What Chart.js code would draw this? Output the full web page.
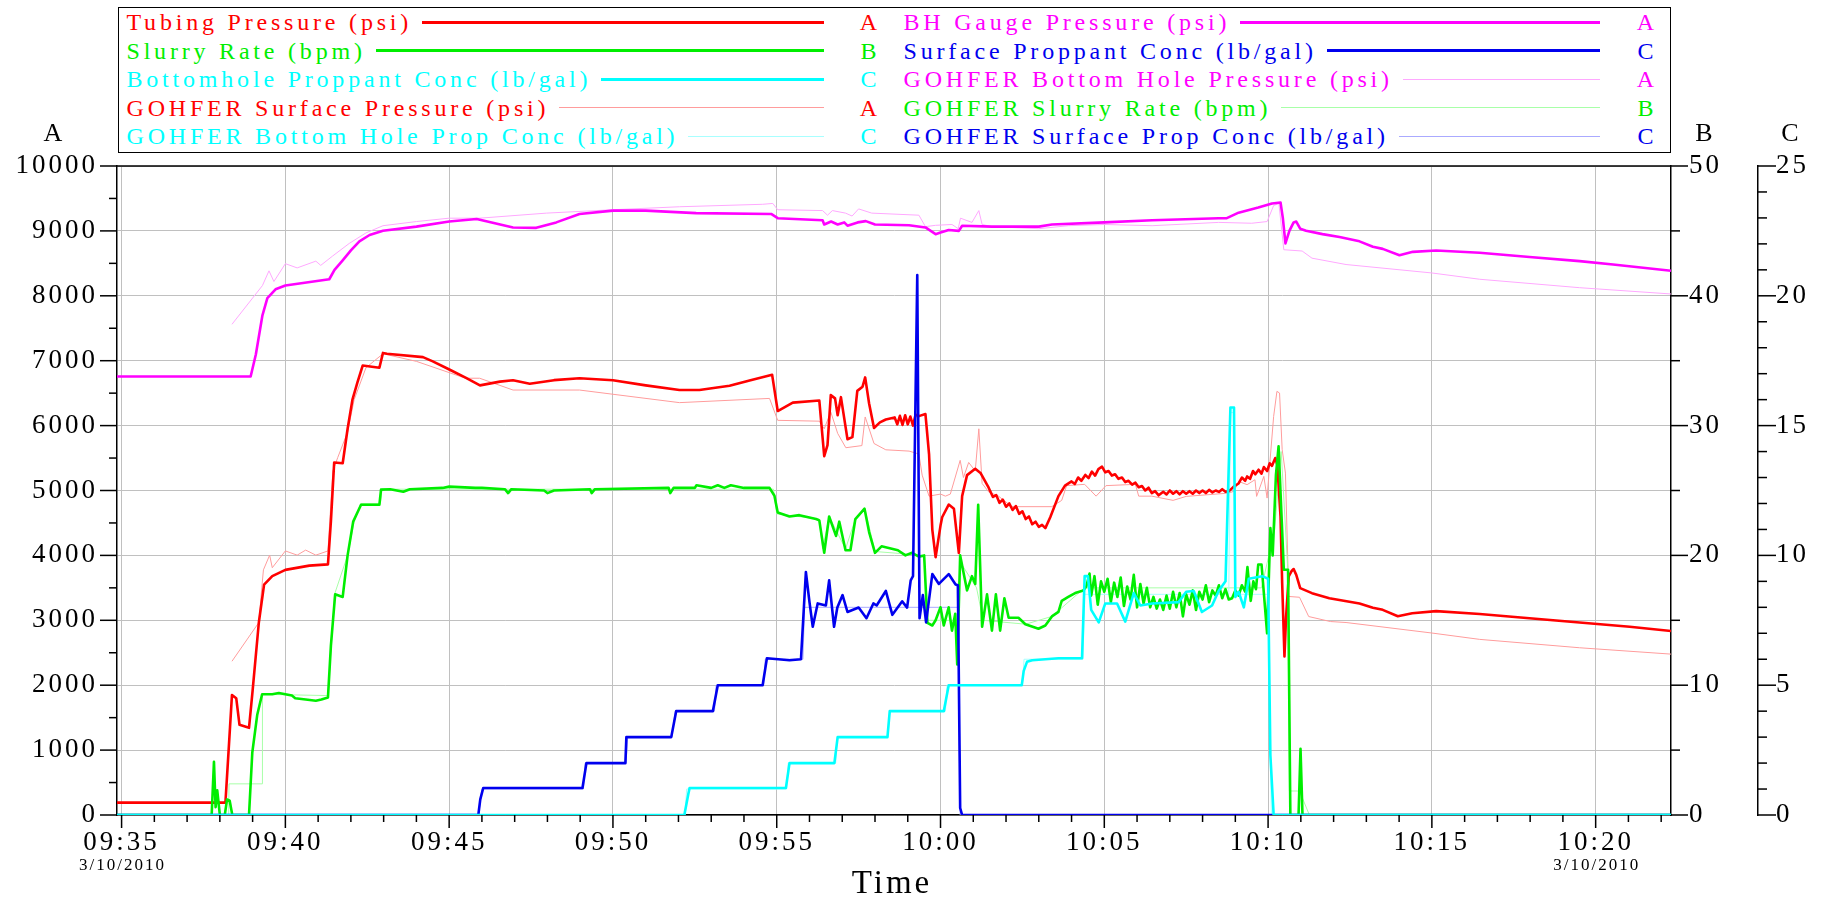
<!DOCTYPE html>
<html>
<head>
<meta charset="utf-8">
<title>Treatment plot</title>
<script src="https://cdn.jsdelivr.net/npm/chart.js@4.4.1/dist/chart.umd.min.js"></script>
<style>
  html, body { margin: 0; padding: 0; background: #fff; }
  #wrap { position: relative; width: 1834px; height: 900px; overflow: hidden;
          font-family: "Liberation Serif", "Times New Roman", serif; }
  #plot { position: absolute; left: 0; top: 0; }
  #legend { position: absolute; left: 118px; top: 7px; width: 1553px; height: 146px;
            border: 1.5px solid #000; box-sizing: border-box; background: #fff; }
  .col { position: absolute; top: 0; width: 762px; }
  .row { display: flex; align-items: center; height: 28.5px; line-height: 28.5px;
         font-size: 24px; letter-spacing: 3.8px; white-space: nowrap; }
  .row .sw { flex: 1; margin-left: 10px; }
  .row .ax { width: 40px; text-align: center; letter-spacing: 0; }
  .axt { position: absolute; font-size: 26px; color: #000; transform: translate(-50%, -50%); }
</style>
</head>
<body>
<div id="wrap">
  <canvas id="plot" width="1834" height="900"></canvas>
  <div id="legend">
    <div class="col" id="colL" style="left:7.5px"></div>
    <div class="col" id="colR" style="left:784.5px"></div>
  </div>
  <div class="axt" style="left:53px;top:133px">A</div>
  <div class="axt" style="left:1704px;top:133px">B</div>
  <div class="axt" style="left:1790px;top:133px">C</div>
  <div class="axt" style="left:892px;top:882px;font-size:33px;letter-spacing:3px">Time</div>
</div>
<script>
// Elapsed minutes after 09:35 on 3/10/2010, paired with the reading at that moment.

// Axis A (psi)
const tubingPressure = [
  [-0.14,190],[3.17,190],[3.28,1100],[3.37,1850],[3.5,1800],[3.6,1390],[3.89,1343],[4.0,1915],[4.19,2966],
  [4.35,3550],[4.6,3680],[5.0,3777],[5.73,3842],[6.3,3862],[6.39,4524],[6.49,5432],[6.75,5419],[6.9,5951],
  [7.05,6405],[7.2,6665],[7.36,6925],[7.87,6892],[7.98,7120],[8.1,7107],[9.2,7055],[9.5,6990],[10.02,6860],
  [10.5,6740],[10.94,6620],[11.55,6678],[11.95,6698],[12.46,6646],[13.2,6700],[13.98,6730],[15.0,6698],
  [16.0,6620],[17.03,6548],[17.64,6548],[18.56,6613],[19.2,6700],[19.86,6782],[20.03,6224],[20.49,6354],
  [21.3,6386],[21.45,5529],[21.55,5700],[21.65,6470],[21.78,6420],[21.86,6159],[21.96,6438],[22.16,5789],
  [22.31,5822],[22.46,6535],[22.62,6600],[22.7,6743],[22.82,6341],[22.97,5964],[23.15,6050],[23.33,6094],
  [23.6,6126],[23.68,6020],[23.76,6150],[23.84,6010],[23.92,6160],[24.0,6020],[24.08,6140],[24.16,6000],
  [24.24,6170],[24.34,6146],[24.54,6178],[24.65,5562],[24.75,4394],[24.85,3972],[25.0,4459],[25.05,4588],
  [25.25,4783],[25.41,4718],[25.56,4037],[25.66,4913],[25.81,5237],[26.06,5335],[26.22,5270],[26.47,5043],
  [26.6,4900],[26.7,4930],[26.8,4810],[26.9,4860],[27.0,4750],[27.1,4800],[27.2,4700],[27.3,4760],[27.4,4640],
  [27.5,4680],[27.6,4560],[27.7,4600],[27.8,4480],[27.9,4520],[28.0,4440],[28.1,4470],[28.2,4420],[28.35,4588],
  [28.6,4913],[28.8,5075],[29.0,5140],[29.1,5100],[29.2,5200],[29.3,5150],[29.42,5240],[29.52,5190],[29.62,5290],
  [29.72,5230],[29.82,5330],[29.93,5367],[30.03,5280],[30.13,5300],[30.23,5230],[30.33,5250],[30.43,5180],
  [30.54,5200],[30.64,5130],[30.74,5150],[30.85,5090],[30.95,5120],[31.05,5050],[31.15,5070],[31.25,5000],
  [31.35,5043],[31.45,4960],[31.55,4990],[31.66,4926],[31.8,4980],[31.9,4940],[32.0,5000],[32.1,4950],
  [32.2,4990],[32.3,4940],[32.4,4990],[32.5,4950],[32.6,4990],[32.7,4950],[32.8,5000],[32.9,4960],[33.0,5000],
  [33.1,4960],[33.2,5010],[33.3,4970],[33.4,5000],[33.5,4978],[33.6,5020],[33.7,4980],[33.8,4986],[33.96,5063],
  [34.1,5108],[34.2,5200],[34.3,5150],[34.36,5217],[34.45,5180],[34.54,5300],[34.61,5250],[34.71,5320],
  [34.8,5260],[34.87,5361],[34.97,5300],[35.05,5420],[35.12,5380],[35.22,5500],[35.28,5400],[35.38,4600],
  [35.43,3572],[35.5,2442],[35.55,3058],[35.63,3675],[35.72,3760],[35.78,3790],[35.86,3700],[35.98,3495],
  [36.34,3418],[36.87,3341],[37.79,3258],[38.2,3193],[38.5,3161],[38.96,3063],[39.4,3109],[40.13,3141],
  [41.46,3096],[42.98,3031],[44.51,2966],[46.04,2901],[47.3,2836]
];

const gohferSurfacePressure = [
  [3.37,2369],[4.19,2966],[4.28,3500],[4.33,3777],[4.52,4004],[4.6,3810],[5.0,4069],[5.36,4004],[5.62,4082],
  [5.93,4004],[6.3,4069],[6.45,5300],[6.6,5510],[6.9,5900],[7.1,6400],[7.46,6892],[7.98,7107],[9.0,6990],
  [10.5,6730],[10.93,6730],[11.95,6548],[13.98,6548],[15.0,6483],[17.03,6354],[19.78,6419],[20.03,6081],
  [21.3,6068],[21.45,5951],[21.65,6211],[21.86,5880],[22.11,5659],[22.6,5692],[22.7,6133],[22.97,5724],
  [23.33,5627],[24.04,5607],[24.34,5562],[24.44,5237],[24.65,4913],[25.0,4945],[25.15,4913],[25.3,4945],
  [25.6,5465],[25.7,5200],[25.86,5432],[26.06,5300],[26.17,5951],[26.27,5108],[26.47,4978],[26.77,4913],
  [27.18,4751],[28.4,4751],[28.7,4848],[28.85,5075],[29.4,5095],[29.75,4913],[30.05,5075],[30.95,5095],
  [31.05,4913],[31.45,4913],[32.1,4848],[32.5,4909],[33.8,4960],[33.96,4990],[34.1,5140],[34.36,5090],
  [34.6,5166],[34.65,4909],[34.87,5217],[34.97,4883],[35.02,5217],[35.17,6142],[35.27,6528],[35.35,6502],
  [35.43,5628],[35.53,5268],[35.63,3367],[35.96,3355],[36.24,3058],[36.9,2981],[37.38,2966],[40.0,2804],
  [41.46,2706],[44.51,2577],[47.3,2479]
];

const bhGaugePressure = [
  [-0.14,6756],[3.94,6756],[4.1,7100],[4.3,7700],[4.45,7963],[4.7,8100],[5.0,8158],[6.34,8255],[6.5,8400],
  [6.75,8547],[7.0,8700],[7.26,8839],[7.57,8937],[7.98,9002],[9.0,9066],[10.0,9144],[10.84,9183],[11.95,9053],
  [12.66,9047],[13.27,9131],[13.98,9261],[15.0,9313],[16.0,9313],[17.54,9274],[19.83,9261],[20.03,9196],
  [21.4,9164],[21.45,9099],[21.66,9144],[21.86,9099],[22.06,9131],[22.16,9080],[22.47,9131],[22.72,9151],
  [23.0,9099],[24.04,9086],[24.54,9053],[24.85,8950],[25.0,8975],[25.25,9014],[25.56,9000],[25.66,9080],
  [26.57,9066],[28.0,9066],[28.4,9099],[30.0,9131],[31.46,9164],[33.49,9196],[33.74,9196],[34.1,9281],
  [34.7,9359],[35.12,9423],[35.38,9437],[35.45,9200],[35.53,8807],[35.65,9000],[35.78,9131],[35.86,9144],
  [35.98,9034],[36.16,9002],[36.66,8950],[37.18,8905],[37.79,8839],[38.2,8755],[38.5,8723],[39.01,8625],
  [39.42,8677],[40.13,8697],[41.46,8664],[42.98,8599],[44.51,8534],[45.53,8482],[47.3,8385]
];

const gohferBottomHolePressure = [
  [3.37,7561],[4.3,8158],[4.5,8385],[4.65,8220],[5.0,8495],[5.36,8430],[5.93,8534],[6.08,8469],[6.44,8612],
  [6.95,8807],[7.46,8969],[7.98,9080],[9.0,9144],[10.0,9196],[10.93,9196],[12.97,9274],[15.0,9326],
  [17.03,9372],[19.57,9410],[19.88,9423],[20.03,9326],[21.4,9313],[21.55,9242],[21.7,9313],[22.1,9274],
  [22.3,9229],[22.5,9339],[22.9,9274],[24.34,9242],[24.54,9066],[24.85,9086],[25.35,9099],[25.54,9034],
  [25.61,9196],[25.96,9131],[26.17,9313],[26.27,9099],[26.57,9066],[28.0,9034],[28.9,9080],[30.0,9099],
  [31.46,9080],[33.49,9131],[34.5,9118],[34.97,9144],[35.17,9391],[35.33,9423],[35.48,8710],[36.04,8690],
  [36.34,8580],[37.38,8482],[40.0,8352],[41.46,8255],[44.51,8125],[47.3,8028]
];

// Axis B (bpm)
const slurryRate = [
  [-0.14,0],[2.75,0],[2.82,4.1],[2.87,0.6],[2.92,1.9],[3.0,0],[3.15,0],[3.22,1.2],[3.3,1.1],[3.38,0],[3.89,0],
  [3.99,4.8],[4.14,7.7],[4.29,9.3],[4.6,9.3],[4.8,9.4],[5.0,9.3],[5.2,9.2],[5.3,9.0],[5.62,8.9],[5.93,8.8],
  [6.1,8.9],[6.3,9.06],[6.39,13.05],[6.52,17.0],[6.75,16.8],[6.9,20.0],[7.07,22.6],[7.31,23.9],[7.57,23.9],
  [7.87,23.9],[7.92,25.07],[8.2,25.1],[8.6,24.9],[8.8,25.1],[9.8,25.2],[10.0,25.3],[10.8,25.2],[11.0,25.2],
  [11.7,25.1],[11.8,24.8],[11.9,25.1],[12.9,25.0],[13.0,24.8],[13.2,25.0],[14.3,25.1],[14.35,24.8],[14.45,25.1],
  [16.7,25.2],[16.75,24.8],[16.85,25.2],[17.5,25.2],[17.55,25.4],[18.0,25.2],[18.2,25.4],[18.4,25.2],
  [18.6,25.4],[19.0,25.2],[19.78,25.2],[19.93,24.6],[20.03,23.3],[20.39,23.0],[20.69,23.1],[21.2,22.8],
  [21.3,22.7],[21.45,20.2],[21.6,23.0],[21.81,21.5],[21.91,22.6],[22.1,20.4],[22.25,20.4],[22.4,22.8],
  [22.68,23.6],[22.82,21.8],[23.0,20.2],[23.2,20.7],[23.7,20.4],[23.93,20.0],[24.13,20.2],[24.34,19.9],
  [24.5,20.0],[24.6,14.8],[24.75,14.6],[24.85,15.0],[25.0,16.0],[25.1,14.6],[25.25,16.0],[25.35,14.2],
  [25.45,15.5],[25.51,11.6],[25.6,20.0],[25.81,17.3],[25.96,18.4],[26.06,17.8],[26.15,23.9],[26.27,14.5],
  [26.42,17.0],[26.57,14.2],[26.69,17.0],[26.82,14.2],[26.95,16.7],[27.08,15.2],[27.38,15.2],[27.59,14.7],
  [27.99,14.35],[28.2,14.6],[28.4,15.3],[28.6,15.65],[28.7,16.5],[28.9,16.8],[29.11,17.1],[29.36,17.3],
  [29.45,17.6],[29.55,18.6],[29.6,16.9],[29.7,18.4],[29.8,16.2],[29.9,18.0],[30.0,17.2],[30.1,18.2],
  [30.2,16.4],[30.3,17.9],[30.4,16.8],[30.5,18.3],[30.6,16.1],[30.7,17.6],[30.8,16.6],[30.9,18.5],[31.0,16.0],
  [31.1,17.8],[31.2,16.3],[31.3,17.5],[31.4,16.0],[31.5,16.8],[31.6,15.9],[31.7,16.6],[31.8,15.8],[31.9,16.9],
  [32.0,15.9],[32.1,17.2],[32.2,16.0],[32.3,17.1],[32.4,15.3],[32.5,17.0],[32.6,16.2],[32.7,17.3],[32.8,15.8],
  [32.9,17.2],[33.0,16.6],[33.1,17.7],[33.2,16.4],[33.3,17.3],[33.4,16.9],[33.5,17.7],[33.6,16.7],[33.7,17.4],
  [33.8,16.6],[33.9,16.7],[34.0,17.3],[34.1,16.9],[34.2,17.7],[34.3,17.2],[34.37,19.1],[34.47,16.5],
  [34.55,18.0],[34.63,17.4],[34.7,19.3],[34.8,19.3],[34.97,14.0],[35.07,22.1],[35.14,20.0],[35.24,26.2],
  [35.32,28.4],[35.48,18.9],[35.61,18.9],[35.68,0],[35.93,0],[35.99,5.1],[36.05,0],[47.3,0]
];

const gohferSlurryRate = [
  [-0.14,0],[3.27,0],[3.28,2.4],[4.29,2.4],[4.3,9.3],[6.3,9.2],[6.4,13],[6.5,17],[6.9,20],[7.1,22.6],
  [7.3,24],[7.9,24],[7.95,25.1],[19.9,25.1],[20.0,23.2],[21.3,22.8],[21.4,20.5],[21.6,23],[22.1,20.5],
  [22.4,22.8],[22.7,23.5],[23.0,20.3],[24.5,20],[24.6,15],[25.5,15],[25.6,19.5],[26.1,17.5],[26.3,15],
  [27.6,14.7],[28.4,15.3],[29.4,17.5],[34.8,17.5],[35.2,22],[35.4,28],[35.6,19],[35.65,1.85],[35.96,1.85],
  [36.26,0],[47.3,0]
];

// Axis C (lb/gal)
const surfacePropConc = [
  [-0.14,0],[10.89,0],[10.95,0.6],[11.04,1.04],[14.07,1.04],[14.19,2.0],[15.38,2.0],[15.41,3.0],[16.78,3.0],
  [16.93,4.0],[18.05,4.0],[18.2,5.0],[19.57,5.0],[19.7,6.04],[20.39,5.96],[20.74,6.0],[20.89,9.36],[21.0,8.2],
  [21.1,7.25],[21.25,8.15],[21.5,8.07],[21.6,9.04],[21.75,7.25],[21.85,7.99],[22.01,8.47],[22.16,7.82],
  [22.5,7.99],[22.74,7.58],[22.95,8.15],[23.05,8.07],[23.33,8.63],[23.53,7.71],[23.83,8.23],[23.98,7.99],
  [24.09,9.04],[24.16,9.2],[24.29,20.8],[24.36,7.58],[24.46,8.47],[24.56,7.42],[24.75,9.28],[24.95,8.9],
  [25.25,9.28],[25.46,8.88],[25.53,8.85],[25.6,0.27],[25.66,0],[47.3,0]
];

const gohferSurfacePropConc = [
  [-0.14,0],[10.9,0],[11.0,1],[14.1,1],[14.15,2],[15.4,2],[15.45,3],[16.8,3],[16.9,4],[18.1,4],[18.15,5],
  [19.6,5],[19.65,6],[20.8,6],[20.85,8],[25.55,8],[25.6,0],[47.3,0]
];

const bottomholePropConc = [
  [-0.14,0],[17.18,0],[17.3,0.8],[17.34,1.04],[20.28,1.04],[20.39,2.0],[21.76,2.0],[21.86,3.0],[23.38,3.0],
  [23.45,4.0],[25.1,4.0],[25.25,5.0],[27.48,5.0],[27.54,5.55],[27.64,5.9],[27.8,5.96],[28.6,6.04],[29.32,6.04],
  [29.4,9.2],[29.5,9.2],[29.6,7.9],[29.83,7.42],[30.03,8.15],[30.39,8.15],[30.64,7.45],[30.9,8.55],[31.1,8.07],
  [31.46,8.15],[32.27,8.2],[32.5,8.6],[32.73,8.63],[32.98,7.82],[33.29,8.07],[33.49,8.63],[33.7,9.0],
  [33.85,15.7],[33.96,15.7],[34.0,8.4],[34.1,8.6],[34.26,8.0],[34.41,9.1],[34.82,9.2],[35.0,9.1],[35.07,2.3],
  [35.17,0],[47.3,0]
];

const gohferBottomHolePropConc = [
  [-0.14,0],[17.2,0],[17.25,1],[20.3,1],[20.35,2],[21.8,2],[21.85,3],[23.4,3],[23.45,4],[25.15,4],[25.2,5],
  [27.5,5],[27.55,6],[29.35,6],[29.4,8.5],[33.8,8.5],[33.85,15.5],[33.95,15.5],[34.0,8.5],[35.0,8.5],
  [35.1,0],[47.3,0]
];

// Time axis
const timeTicks  = [0, 5, 10, 15, 20, 25, 30, 35, 40, 45];
const timeLabels = ['09:35','09:40','09:45','09:50','09:55','10:00','10:05','10:10','10:15','10:20'];
const dateTicks  = [0, 45];
const dateLabel  = '3/10/2010';

const FONT = '"Liberation Serif", "Times New Roman", serif';

// Legend entries, left column then right column
const legendLeft = [
  { text: 'Tubing Pressure (psi)',               color: '#ff0000', line: '#ff0000', w: 3, axis: 'A', axisColor: '#ff0000' },
  { text: 'Slurry Rate (bpm)',                   color: '#00ee00', line: '#00ee00', w: 3, axis: 'B', axisColor: '#00ee00' },
  { text: 'Bottomhole Proppant Conc (lb/gal)',   color: '#00ffff', line: '#00ffff', w: 3, axis: 'C', axisColor: '#00ffff' },
  { text: 'GOHFER Surface Pressure (psi)',       color: '#ff0000', line: '#ff9c9c', w: 1, axis: 'A', axisColor: '#ff0000' },
  { text: 'GOHFER Bottom Hole Prop Conc (lb/gal)', color: '#00ffff', line: '#a8ffff', w: 1, axis: 'C', axisColor: '#00ffff' }
];
const legendRight = [
  { text: 'BH Gauge Pressure (psi)',             color: '#ff00ff', line: '#ff00ff', w: 3, axis: 'A', axisColor: '#ff00ff' },
  { text: 'Surface Proppant Conc (lb/gal)',      color: '#0000ee', line: '#0000ee', w: 3, axis: 'C', axisColor: '#0000ee' },
  { text: 'GOHFER Bottom Hole Pressure (psi)',   color: '#ff00ff', line: '#ffa8ff', w: 1, axis: 'A', axisColor: '#ff00ff' },
  { text: 'GOHFER Slurry Rate (bpm)',            color: '#00ee00', line: '#a8ffa8', w: 1, axis: 'B', axisColor: '#00ee00' },
  { text: 'GOHFER Surface Prop Conc (lb/gal)',   color: '#0000ee', line: '#aaaaff', w: 1, axis: 'C', axisColor: '#0000ee' }
];

function fillLegend(el, items, endGap) {
  items.forEach(it => {
    const row = document.createElement('div');
    row.className = 'row';
    const t = document.createElement('span');
    t.textContent = it.text; t.style.color = it.color;
    const sw = document.createElement('span');
    sw.className = 'sw';
    sw.style.height = it.w + 'px'; sw.style.background = it.line; sw.style.marginRight = endGap + 'px';
    const a = document.createElement('span');
    a.className = 'ax'; a.textContent = it.axis; a.style.color = it.axisColor;
    row.append(t, sw, a);
    el.appendChild(row);
  });
}
fillLegend(document.getElementById('colL'), legendLeft, 25);
fillLegend(document.getElementById('colR'), legendRight, 26);

// Wide-set lettering used by the axis labels
const spacing = {
  id: 'spacing',
  beforeLayout(chart) { chart.ctx.letterSpacing = '3px'; },
  beforeDraw(chart)   { chart.ctx.letterSpacing = '3px'; }
};

// Frame, major/minor tick marks and the date under the end ticks
const frame = {
  id: 'frame',
  afterDraw(chart) {
    const { ctx, chartArea: ca, scales } = chart;
    ctx.save();
    ctx.strokeStyle = '#000';
    ctx.lineWidth = 1.5;
    const seg = (x1, y1, x2, y2) => { ctx.beginPath(); ctx.moveTo(x1, y1); ctx.lineTo(x2, y2); ctx.stroke(); };
    seg(ca.left, ca.top, ca.right, ca.top);
    for (let v = 0; v <= 10000; v += 500) {
      const y = scales.yA.getPixelForValue(v);
      seg(ca.left - (v % 1000 ? 8 : 17), y, ca.left, y);
    }
    for (let v = 0; v <= 50; v += 5) {
      const y = scales.yB.getPixelForValue(v);
      seg(ca.right, y, ca.right + (v % 10 ? 9 : 17), y);
    }
    const cx = scales.yC.left;
    for (let v = 0; v <= 25; v += 1) {
      const y = scales.yC.getPixelForValue(v);
      seg(cx, y, cx + (v % 5 ? 9 : 18), y);
    }
    for (let m = 0; m <= 47; m += 1) {
      const x = scales.x.getPixelForValue(m);
      seg(x, ca.bottom, x, ca.bottom + (m % 5 ? 7 : 13));
    }
    ctx.font = '17px ' + FONT;
    ctx.letterSpacing = '2px';
    ctx.fillStyle = '#000';
    ctx.textAlign = 'center';
    ctx.textBaseline = 'middle';
    dateTicks.forEach(m => ctx.fillText(dateLabel, scales.x.getPixelForValue(m) + 1, 866));
    ctx.restore();
  }
};

function line(label, data, color, width, axis) {
  return { label, data, borderColor: color, backgroundColor: color, borderWidth: width,
           yAxisID: axis, pointRadius: 0, tension: 0, fill: false, borderJoinStyle: 'round' };
}

// First entries are painted last (on top)
const datasets = [
  line('Bottomhole Proppant Conc (lb/gal)', bottomholePropConc, '#00ffff', 2.6, 'yC'),
  line('Surface Proppant Conc (lb/gal)', surfacePropConc, '#0000ee', 2.6, 'yC'),
  line('Slurry Rate (bpm)', slurryRate, '#00ee00', 2.6, 'yB'),
  line('Tubing Pressure (psi)', tubingPressure, '#ff0000', 2.6, 'yA'),
  line('BH Gauge Pressure (psi)', bhGaugePressure, '#ff00ff', 2.6, 'yA'),
  line('GOHFER Bottom Hole Prop Conc (lb/gal)', gohferBottomHolePropConc, '#a8ffff', 1, 'yC'),
  line('GOHFER Surface Prop Conc (lb/gal)', gohferSurfacePropConc, '#aaaaff', 1, 'yC'),
  line('GOHFER Slurry Rate (bpm)', gohferSlurryRate, '#a8ffa8', 1, 'yB'),
  line('GOHFER Surface Pressure (psi)', gohferSurfacePressure, '#ff9c9c', 1, 'yA'),
  line('GOHFER Bottom Hole Pressure (psi)', gohferBottomHolePressure, '#ffa8ff', 1, 'yA')
];

const tickFont = { family: FONT, size: 27 };
const gridGray = '#c0c0c0';

new Chart(document.getElementById('plot'), {
  type: 'line',
  data: { datasets },
  plugins: [spacing, frame],
  options: {
    responsive: false,
    animation: false,
    events: [],
    layout: { padding: { top: 166, left: 0, right: 0, bottom: 0 } },
    plugins: { legend: { display: false }, tooltip: { enabled: false } },
    scales: {
      x: {
        type: 'linear', position: 'bottom', min: -0.14, max: 47.3,
        afterBuildTicks: s => { s.ticks = timeTicks.map(v => ({ value: v })); },
        afterFit: s => { s.height = 85; },
        grid: { color: gridGray, lineWidth: 1, drawTicks: false },
        border: { color: '#000', width: 1.5 },
        ticks: { color: '#000', font: tickFont, padding: 12, maxRotation: 0, autoSkip: false,
                 callback: (v, i) => timeLabels[i] }
      },
      yA: {
        type: 'linear', position: 'left', min: 0, max: 10000,
        afterFit: s => { s.width = 117; },
        grid: { color: gridGray, lineWidth: 1, drawTicks: false },
        border: { color: '#000', width: 1.5 },
        ticks: { stepSize: 1000, color: '#000', font: tickFont, padding: 19, callback: v => String(v) }
      },
      yB: {
        type: 'linear', position: 'right', min: 0, max: 50,
        afterFit: s => { s.width = 87; },
        grid: { drawOnChartArea: false, drawTicks: false },
        border: { color: '#000', width: 1.5 },
        ticks: { stepSize: 10, color: '#000', font: tickFont, padding: 18, callback: v => String(v) }
      },
      yC: {
        type: 'linear', position: 'right', min: 0, max: 25,
        afterFit: s => { s.width = 76; },
        grid: { drawOnChartArea: false, drawTicks: false },
        border: { color: '#000', width: 1.5 },
        ticks: { stepSize: 5, color: '#000', font: tickFont, padding: 18, callback: v => String(v) }
      }
    }
  }
});
</script>
</body>
</html>
